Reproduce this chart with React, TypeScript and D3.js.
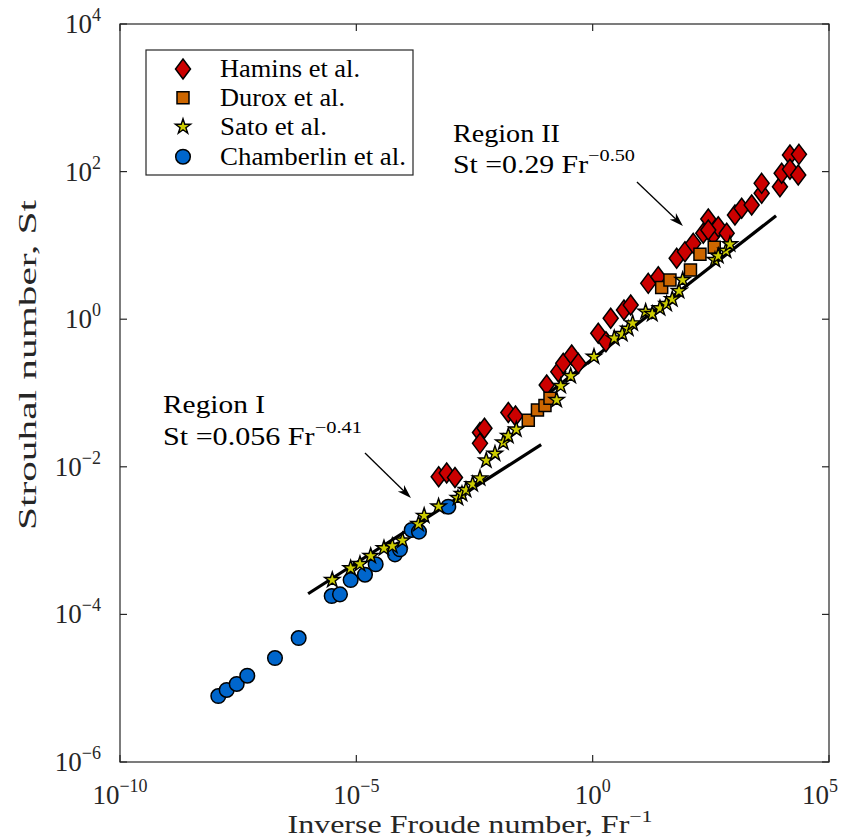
import React from 'react';
import * as d3 from 'd3';

const W = 841;
const H = 839;

// ---- data (log10 of Fr^-1 and log10 of St) ----
const chamberlinLogFr = [-7.92, -7.743, -7.531, -7.307, -6.721, -6.22, -5.521, -5.346, -5.12, -4.817, -4.591, -4.182, -4.077, -3.829, -3.675, -3.055];
const chamberlinLogSt = [-5.106, -5.024, -4.943, -4.831, -4.591, -4.32, -3.751, -3.728, -3.534, -3.462, -3.321, -3.186, -3.118, -2.856, -2.879, -2.541];

const haminsLogFr = [-3.258, -3.089, -2.913, -2.384, -2.289, -2.384, -1.785, -1.633, -0.973, -0.728, -0.622, -0.444, -0.305, 0.118, 0.281, 0.381, 0.662, 0.804, 1.176, 1.388, 1.777, 1.953, 2.128, 2.34, 2.446, 2.551, 2.657, 2.446, 2.835, 3.01, 3.152, 3.364, 3.575, 3.575, 3.962, 3.998, 4.174, 4.364, 4.174, 4.349];
const haminsLogSt = [-2.134, -2.084, -2.145, -1.535, -1.478, -1.682, -1.264, -1.312, -0.892, -0.711, -0.598, -0.485, -0.598, -0.191, -0.305, 0.012, 0.125, 0.192, 0.486, 0.576, 0.825, 0.915, 1.028, 1.164, 1.358, 1.141, 1.253, 1.209, 1.164, 1.412, 1.503, 1.547, 1.706, 1.841, 1.795, 1.977, 2.225, 2.234, 2.031, 1.954];

const duroxLogFr = [-1.362, -1.168, -1.009, -0.903, 1.46, 1.635, 2.069, 2.27, 2.572];
const duroxLogSt = [-1.37, -1.23, -1.169, -1.072, 0.43, 0.531, 0.667, 0.879, 0.974];

const satoLogFr = [-5.509, -5.12, -4.923, -4.696, -4.415, -4.239, -4.024, -3.685, -3.565, -3.26, -2.85, -2.765, -2.68, -2.539, -2.384, -2.251, -2.067, -1.891, -1.785, -1.616, -0.762, -0.677, -0.465, 0.028, 0.457, 0.626, 0.753, 0.846, 1.121, 1.261, 1.424, 1.565, 1.684, 1.826, 1.904, 2.587, 2.657, 2.82, 2.905];
const satoLogSt = [-3.534, -3.375, -3.317, -3.209, -3.104, -3.073, -2.999, -2.775, -2.664, -2.537, -2.423, -2.369, -2.314, -2.236, -2.156, -1.915, -1.822, -1.671, -1.583, -1.495, -1.095, -0.905, -0.77, -0.508, -0.259, -0.201, -0.129, -0.056, 0.102, 0.07, 0.148, 0.206, 0.27, 0.382, 0.531, 0.802, 0.856, 0.928, 1.015];

// power-law fits St = c * (Fr^-1)^p
const fitCoef = [0.056, 0.29];
const fitPower = [0.41, 0.5];
const fitLogStart = [-6.02, -1.0];
const fitLogEnd = [-1.09, 3.88];

const xTickExps = [-10, -5, 0, 5];
const yTickExps = [-6, -4, -2, 0, 2, 4];

const legendLabels = ['Hamins et al.', 'Durox et al.', 'Sato et al.', 'Chamberlin et al.'];
const legendWidths = [140, 125, 107, 186];

const FONT = 'Liberation Serif';
const AX = '#262626';

const x = d3.scaleLog().domain([1e-10, 1e5]).range([120, 829]);
const y = d3.scaleLog().domain([1e-6, 1e4]).range([762, 24]);
const p10 = (v: number) => Math.pow(10, v);

const diamondPath = (cx: number, cy: number) => {
  const hw = 7.5, hh = 10;
  return `M${cx},${cy - hh}L${cx + hw},${cy}L${cx},${cy + hh}L${cx - hw},${cy}Z`;
};
const squarePath = (cx: number, cy: number) => {
  const h = 6;
  return `M${cx - h},${cy - h}H${cx + h}V${cy + h}H${cx - h}Z`;
};
const starGen = d3.symbol().type(d3.symbolStar).size(72);

function Marker({ kind, cx, cy }: { kind: string; cx: number; cy: number }) {
  if (kind === 'd') return <path d={diamondPath(cx, cy)} fill="#cc0000" stroke="#000" strokeWidth={1.5} />;
  if (kind === 's') return <path d={squarePath(cx, cy)} fill="#cc6600" stroke="#000" strokeWidth={1.5} />;
  if (kind === 'p')
    return <path d={starGen() as string} transform={`translate(${cx},${cy})`} fill="#cccc00" stroke="#000" strokeWidth={1.4} />;
  return <circle cx={cx} cy={cy} r={7.3} fill="#0066cc" stroke="#000" strokeWidth={1.5} />;
}

function Pow10({ e }: { e: number }) {
  return (
    <>
      <tspan>10</tspan>
      <tspan dy={-12} fontSize={18}>{e < 0 ? '\u2212' + -e : String(e)}</tspan>
    </>
  );
}

function Arrow({ x1, y1, x2, y2 }: { x1: number; y1: number; x2: number; y2: number }) {
  const ang = Math.atan2(y2 - y1, x2 - x1);
  const L = 14, hw = 4.5, notch = 10;
  const ux = Math.cos(ang), uy = Math.sin(ang);
  const px = -uy, py = ux;
  const bx = x2 - ux * L, by = y2 - uy * L;
  const nx = x2 - ux * notch, ny = y2 - uy * notch;
  const head = `M${x2},${y2}L${bx + px * hw},${by + py * hw}L${nx},${ny}L${bx - px * hw},${by - py * hw}Z`;
  return (
    <g>
      <line x1={x1} y1={y1} x2={nx} y2={ny} stroke="#000" strokeWidth={1.3} />
      <path d={head} fill="#000" />
    </g>
  );
}

export default function App() {
  const line = d3.line<[number, number]>().x((d) => x(d[0])).y((d) => y(d[1]));
  const fits = fitCoef.map((c, i) => {
    const a = p10(fitLogStart[i]);
    const b = p10(fitLogEnd[i]);
    return line([
      [a, c * Math.pow(a, fitPower[i])],
      [b, c * Math.pow(b, fitPower[i])],
    ]) as string;
  });

  const series = [
    { kind: 'c', fr: chamberlinLogFr, st: chamberlinLogSt },
    { kind: 'd', fr: haminsLogFr, st: haminsLogSt },
    { kind: 's', fr: duroxLogFr, st: duroxLogSt },
    { kind: 'p', fr: satoLogFr, st: satoLogSt },
  ];
  const legendKinds = ['d', 's', 'p', 'c'];
  const legendRowY = [69, 97.7, 126.7, 156.7];

  const [xl, xr] = x.range();
  const [yb, yt] = y.range();
  const tick = 7;

  const r1x = x(p10(-9.09));
  const r2x = x(p10(-2.955));

  return (
    <div style={{ position: 'absolute', left: 0, top: 0 }}>
      <svg width={W} height={H} style={{ display: 'block', background: '#fff', fontFamily: FONT }}>
        <rect x={0} y={0} width={W} height={H} fill="#fff" />
        {fits.map((d, i) => (
          <path key={i} d={d} fill="none" stroke="#000" strokeWidth={3.2} />
        ))}
        {series.map((s) => (
          <g key={s.kind}>
            {s.fr.map((f, i) => (
              <Marker key={i} kind={s.kind} cx={x(p10(f))} cy={y(p10(s.st[i]))} />
            ))}
          </g>
        ))}
        <rect x={xl} y={yt} width={xr - xl} height={yb - yt} fill="none" stroke={AX} strokeWidth={1.2} />
        {xTickExps.map((e, i) => {
          const px = x(p10(e));
          const last = i === xTickExps.length - 1;
          return (
            <g key={'x' + e}>
              <line x1={px} x2={px} y1={yb} y2={yb - tick} stroke={AX} strokeWidth={1.2} />
              <line x1={px} x2={px} y1={yt} y2={yt + tick} stroke={AX} strokeWidth={1.2} />
              <text x={last ? W - 3 : px} y={804} textAnchor={last ? 'end' : 'middle'} fontSize={27} fill={AX} style={{ fontFamily: FONT }}>
                <Pow10 e={e} />
              </text>
            </g>
          );
        })}
        {yTickExps.map((e) => {
          const py = y(p10(e));
          return (
            <g key={'y' + e}>
              <line x1={xl} x2={xl + tick} y1={py} y2={py} stroke={AX} strokeWidth={1.2} />
              <line x1={xr} x2={xr - tick} y1={py} y2={py} stroke={AX} strokeWidth={1.2} />
              <text x={101} y={py + 9} textAnchor="end" fontSize={27} fill={AX} style={{ fontFamily: FONT }}>
                <Pow10 e={e} />
              </text>
            </g>
          );
        })}
        <text x={470} y={833} textAnchor="middle" fontSize={25} fill={AX} textLength={365} lengthAdjust="spacingAndGlyphs" style={{ fontFamily: FONT }}>
          <tspan>Inverse Froude number, Fr</tspan>
          <tspan dy={-11} fontSize={17}>{'\u22121'}</tspan>
        </text>
        <text transform="translate(36,365) rotate(-90)" textAnchor="middle" fontSize={26} fill={AX} textLength={330} lengthAdjust="spacingAndGlyphs" style={{ fontFamily: FONT }}>
          Strouhal number, St
        </text>
        <rect x={146} y={50} width={267} height={125} fill="#fff" stroke={AX} strokeWidth={1.2} />
        {legendLabels.map((lab, i) => (
          <g key={lab}>
            <Marker kind={legendKinds[i]} cx={183} cy={legendRowY[i]} />
            <text x={220} y={legendRowY[i] + 8} fontSize={25} fill="#000" textLength={legendWidths[i]} lengthAdjust="spacingAndGlyphs" style={{ fontFamily: FONT }}>
              {lab}
            </text>
          </g>
        ))}
        <text x={r1x} y={y(p10(-1.271))} fontSize={25} fill="#000" textLength={102} lengthAdjust="spacingAndGlyphs" style={{ fontFamily: FONT }}>
          Region I
        </text>
        <text x={r1x} y={y(p10(-1.705))} fontSize={25} fill="#000" textLength={199} lengthAdjust="spacingAndGlyphs" style={{ fontFamily: FONT }}>
          <tspan>St =0.056 Fr</tspan>
          <tspan dy={-12} fontSize={17}>{'\u22120.41'}</tspan>
        </text>
        <Arrow x1={x(p10(-4.817))} y1={y(p10(-1.813))} x2={x(p10(-3.844))} y2={y(p10(-2.423))} />
        <text x={r2x} y={y(p10(2.405))} fontSize={25} fill="#000" textLength={107} lengthAdjust="spacingAndGlyphs" style={{ fontFamily: FONT }}>
          Region II
        </text>
        <text x={r2x} y={y(p10(1.977))} fontSize={25} fill="#000" textLength={182} lengthAdjust="spacingAndGlyphs" style={{ fontFamily: FONT }}>
          <tspan>St =0.29 Fr</tspan>
          <tspan dy={-12} fontSize={17}>{'\u22120.50'}</tspan>
        </text>
        <Arrow x1={x(p10(0.937))} y1={y(p10(1.859))} x2={x(p10(1.91))} y2={y(p10(1.263))} />
      </svg>
    </div>
  );
}
